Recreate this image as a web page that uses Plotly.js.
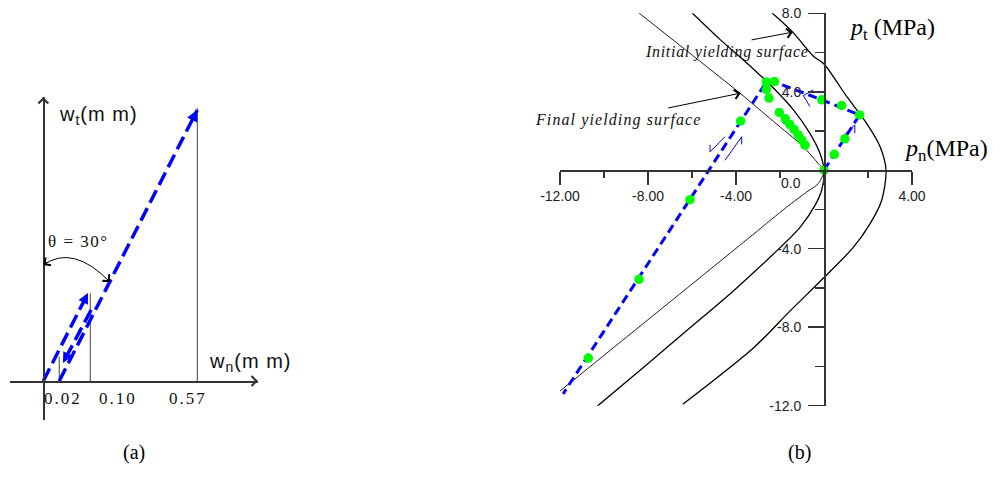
<!DOCTYPE html>
<html><head><meta charset="utf-8">
<script src="https://cdn.plot.ly/plotly-3.0.1.min.js"></script>
<style>
html,body{margin:0;padding:0;background:#fff;}
#chart{width:1001px;height:492px;}
text[data-unformatted*="Initial"]{letter-spacing:0.7px;}
text[data-unformatted*="Final"]{letter-spacing:1.1px;}
text[data-unformatted*="(m m)"]{letter-spacing:1px;}
text[data-unformatted="0.02"],text[data-unformatted="0.10"],text[data-unformatted="0.57"]{letter-spacing:2px;}
text[data-unformatted*="θ"]{letter-spacing:1.5px;}
</style></head><body><div id="chart"></div>
<script>
// ---------- panel (a): schematic displacement path (mm, marks drawn schematically) ----------
const markWn    = [0.059, 0.174, 0.5704];   // drawn positions of the wn marks
const markTop   = [0.090, 0.325, 1.011];
const markText  = ['0.02', '0.10', '0.57'];
const markLabelWn = [0.073, 0.277, 0.536];
const loadWn    = [0, 0.1656];
const loadWt    = [0, 0.326];
const unloadWn  = [0.177, 0.073];
const unloadWt  = [0.263, 0.067];
const reloadWn  = [0.059, 0.5704];
const reloadWt  = [0, 1.004];
const arcWn     = [0, 0.11, 0.247];          // start, control, end of the theta arc
const arcWt     = [0.4296, 0.5074, 0.3667];

// ---------- panel (b): stress path and yielding surfaces (MPa) ----------
const outerPn  = [-2.38,-1.42,-0.48,0,1.03,1.94,2.55,2.82,2.62,2.09,1.33,0,-1.55,-3.21,-6.42];
const outerPt  = [8.04,7.04,5.81,5.42,3.76,2.39,1.2,0,-1.54,-2.73,-3.93,-5.47,-7.18,-9.06,-11.93];
const middlePn = [-6.01,-4.73,-3.51,-2.30,-1.39,-0.64,-0.18,0,-0.11,-0.41,-1.09,-2.30,-4.12,-6.09,-8.06,-10.3];
const middlePt = [8.04,6.67,5.47,4.19,3.08,1.88,0.85,0,-1.03,-1.79,-2.91,-4.27,-6.15,-8.03,-9.91,-12.02];
const finalPn  = [-8.44,-6.24,-3.82,-2.30,-0.94,-0.26,0,-0.26,-0.79,-1.70,-3.21,-6.24,-9.27,-12.03];
const finalPt  = [8.04,6.09,3.93,2.49,1.2,0.34,0,-0.68,-1.11,-1.88,-3.26,-6.02,-8.77,-11.28];
const pathPn   = [0,1.62,-0.10,-2.25,-2.62,-11.86];
const pathPt   = [0,2.82,3.59,4.50,4.50,-11.4];
const dotPn = [0,0.47,0.95,1.62,0.80,-0.10,-2.25,-2.62,-2.62,-2.50,-2.03,-1.76,-1.55,-1.36,-1.17,-1.01,-0.86,-3.79,-6.09,-8.41,-10.71];
const dotPt = [0,0.81,1.60,2.82,3.30,3.59,4.52,4.50,4.12,3.68,2.95,2.62,2.33,2.08,1.80,1.54,1.28,2.51,-1.50,-5.56,-9.57];
const halfArrows = [
  {pn:[-4.50,-5.18,-5.18], pt:[1.71,0.94,1.30]},
  {pn:[-4.50,-3.74,-3.74], pt:[0.51,1.71,1.32]},
  {pn:[0.95,1.40,1.40],    pt:[1.82,2.31,1.88]},
  {pn:[-1.85,-1.62,-1.73], pt:[2.39,2.31,2.86]},
  {pn:[-0.49,-0.94,-0.64], pt:[4.10,3.81,3.25]}
];
const xTickVals = [-12,-8,-4,0,4];
const xTickText = ['-12.00','-8.00','-4.00','','4.00'];
const xMinor    = [-10,-6,-2,2];
const yTickVals = [-12,-8,-4,0,4,8];
const yTickText = ['-12.0','-8.0','-4.0','','4.0','8.0'];
const yMinor    = [-10,-6,-2,2,6];

const W = 1001, H = 492;
const fx = p => p / W, fy = p => 1 - p / H;
const BLUE = '#0000ff', AX = '#333';
const SERIF = 'Liberation Serif, Times New Roman, serif';
const SANS = 'Liberation Sans, Arial, sans-serif';

const traces = [];
// panel a
const mx = [], my = [];
markWn.forEach((w, i) => { mx.push(w, w, null); my.push(0, markTop[i], null); });
traces.push({x: mx, y: my, xaxis: 'x', yaxis: 'y', mode: 'lines', line: {color: '#444', width: 1}});
[[loadWn, loadWt], [unloadWn, unloadWt], [reloadWn, reloadWt]].forEach(([a, b]) => {
  traces.push({x: a, y: b, xaxis: 'x', yaxis: 'y', mode: 'lines', line: {color: BLUE, width: 3.5, dash: '14px,6px'}});
});
// panel b
[[outerPn, outerPt, 1.3], [middlePn, middlePt, 1.3], [finalPn, finalPt, 0.9]].forEach(([a, b, w]) => {
  traces.push({x: a, y: b, xaxis: 'x2', yaxis: 'y2', mode: 'lines', line: {color: '#000', width: w, shape: 'spline', smoothing: 0.8}});
});
traces.push({x: pathPn, y: pathPt, xaxis: 'x2', yaxis: 'y2', mode: 'lines', line: {color: BLUE, width: 3, dash: '9px,5px'}});
halfArrows.forEach(h => traces.push({x: h.pn, y: h.pt, xaxis: 'x2', yaxis: 'y2', mode: 'lines', line: {color: BLUE, width: 1}}));
traces.push({x: dotPn, y: dotPt, xaxis: 'x2', yaxis: 'y2', mode: 'markers', marker: {color: '#00ff00', size: 9.5}, cliponaxis: false});

function head(tipX, tipY, fromX, fromY, xr, yr, color, width, size, style, len) {
  const dx = tipX - fromX, dy = tipY - fromY, d = Math.hypot(dx, dy);
  return {xref: xr, yref: yr, axref: xr, ayref: yr, x: tipX, y: tipY,
    ax: tipX - dx / d * len, ay: tipY - dy / d * len, showarrow: true, text: '',
    arrowhead: style, arrowsize: size, arrowwidth: width, arrowcolor: color, standoff: 0};
}
function arrow(tipX, tipY, tailX, tailY, xr, yr, color, width, size, style) {
  return {xref: xr, yref: yr, axref: xr, ayref: yr, x: tipX, y: tipY, ax: tailX, ay: tailY,
    showarrow: true, text: '', arrowhead: style, arrowsize: size, arrowwidth: width, arrowcolor: color, standoff: 0};
}

const ann = [];
// panel a texts
ann.push({xref: 'x', yref: 'y', x: 0.0507, y: 0.985, xanchor: 'left', yanchor: 'middle', showarrow: false,
  text: 'w<sub>t</sub>(m m)', font: {family: SANS, size: 20, color: '#111'}});
ann.push({xref: 'x', yref: 'y', x: 0.606, y: 0.068, xanchor: 'left', yanchor: 'middle', showarrow: false,
  text: 'w<sub>n</sub>(m m)', font: {family: SANS, size: 20, color: '#111'}});
markText.forEach((t, i) => ann.push({xref: 'x', yref: 'y', x: markLabelWn[i], y: -0.063, showarrow: false,
  text: t, font: {family: SERIF, size: 17, color: '#111'}}));
ann.push({xref: 'x', yref: 'y', x: 0.132, y: 0.515, showarrow: false, text: 'θ = 30°',
  font: {family: SERIF, size: 17, color: '#111'}});
// panel a arrowheads
ann.push(head(0, (381 - 97) / 270, 0, 0, 'x', 'y', AX, 1.2, 1.6, 4, 0.02));
ann.push(head((258 - 43.3) / 270, 0, 0, 0, 'x', 'y', AX, 1.2, 1.6, 4, 0.02));
ann.push(head(loadWn[1], loadWt[1], loadWn[0], loadWt[0], 'x', 'y', BLUE, 3, 0.7, 2, 0.03));
ann.push(head(unloadWn[1], unloadWt[1], unloadWn[0], unloadWt[0], 'x', 'y', BLUE, 3, 0.7, 2, 0.03));
ann.push(head(reloadWn[1], reloadWt[1], reloadWn[0], reloadWt[0], 'x', 'y', BLUE, 3, 0.75, 2, 0.03));
ann.push(head(arcWn[0], arcWt[0], arcWn[1], arcWt[1], 'x', 'y', '#000', 1, 1.8, 4, 0.025));
ann.push(head(arcWn[2], arcWt[2], arcWn[1], arcWt[1], 'x', 'y', '#000', 1, 1.8, 4, 0.025));
// panel b texts
ann.push({xref: 'x2', yref: 'y2', x: 1.045, y: 7.18, xanchor: 'left', yanchor: 'middle', showarrow: false,
  text: '<i>p</i><sub>t</sub> (MPa)', font: {family: SERIF, size: 24, color: '#000'}});
ann.push({xref: 'x2', yref: 'y2', x: 3.545, y: 1.03, xanchor: 'left', yanchor: 'middle', showarrow: false,
  text: '<i>p</i><sub>n</sub>(MPa)', font: {family: SERIF, size: 24, color: '#000'}});
ann.push({xref: 'paper', yref: 'paper', x: fx(643), y: fy(51.7), xanchor: 'left', yanchor: 'middle', showarrow: false,
  text: '<i>Initial yielding surface</i>', font: {family: SERIF, size: 16, color: '#111'}});
ann.push({xref: 'paper', yref: 'paper', x: fx(532.7), y: fy(120), xanchor: 'left', yanchor: 'middle', showarrow: false,
  text: '<i>Final yielding surface</i>', font: {family: SERIF, size: 16, color: '#111'}});
ann.push({xref: 'x2', yref: 'y2', x: -0.955, y: -0.667, xanchor: 'right', yanchor: 'middle', showarrow: false,
  text: '0.0', font: {family: SANS, size: 14, color: '#222'}});
ann.push(arrow(-1.42, 7.04, -3.36, 6.63, 'x2', 'y2', '#000', 1, 1.8, 4));
ann.push(arrow(-3.79, 3.93, -7.15, 3.16, 'x2', 'y2', '#000', 1, 1.8, 4));
// panel captions
ann.push({xref: 'paper', yref: 'paper', x: fx(121), y: fy(466), showarrow: false, text: '(a)',
  font: {family: SERIF, size: 20, color: '#000'}});
ann.push({xref: 'paper', yref: 'paper', x: fx(813), y: fy(466), showarrow: false, text: '(b)',
  font: {family: SERIF, size: 20, color: '#000'}});

const baseAx = {showgrid: false, zeroline: false, showline: true, linecolor: AX, linewidth: 1.5, fixedrange: true};
const layout = {
  width: W, height: H, margin: {l: 0, r: 0, t: 0, b: 0}, paper_bgcolor: '#fff', plot_bgcolor: 'rgba(0,0,0,0)',
  showlegend: false, hovermode: false,
  xaxis: Object.assign({}, baseAx, {domain: [fx(10), fx(258)], range: [(10 - 43.3) / 270, (258 - 43.3) / 270],
    anchor: 'free', position: fy(381), ticks: '', showticklabels: false}),
  yaxis: Object.assign({}, baseAx, {domain: [fy(420), fy(97)], range: [(381 - 420) / 270, (381 - 97) / 270],
    anchor: 'free', position: fx(43.3), ticks: '', showticklabels: false}),
  xaxis2: Object.assign({}, baseAx, {domain: [fx(560), fx(912)], range: [-12, 4], anchor: 'free', position: fy(170),
    side: 'bottom', tickmode: 'array', tickvals: xTickVals, ticktext: xTickText, ticks: 'outside', ticklen: 13,
    tickwidth: 1.5, tickcolor: AX, tickfont: {family: SANS, size: 14, color: '#222'},
    minor: {tickmode: 'array', tickvals: xMinor, ticks: 'outside', ticklen: 6, tickwidth: 1.5, tickcolor: AX}}),
  yaxis2: Object.assign({}, baseAx, {domain: [fy(405.7), fy(13.3)], range: [-12, 8], anchor: 'free', position: fx(824),
    side: 'left', tickmode: 'array', tickvals: yTickVals, ticktext: yTickText, ticks: 'outside', ticklen: 16,
    ticklabelstandoff: 4,
    tickwidth: 1.5, tickcolor: AX, tickfont: {family: SANS, size: 14, color: '#222'},
    minor: {tickmode: 'array', tickvals: yMinor, ticks: 'outside', ticklen: 9, tickwidth: 1.5, tickcolor: AX}}),
  shapes: [{type: 'path', xref: 'x', yref: 'y',
    path: `M ${arcWn[0]} ${arcWt[0]} Q ${arcWn[1]} ${arcWt[1]} ${arcWn[2]} ${arcWt[2]}`,
    line: {color: '#000', width: 1}}],
  annotations: ann
};
Plotly.newPlot('chart', traces, layout, {displayModeBar: false, staticPlot: true});
</script></body></html>
